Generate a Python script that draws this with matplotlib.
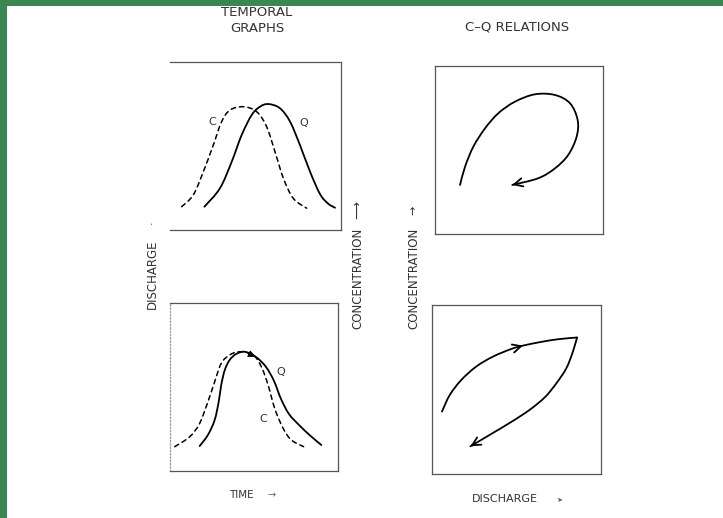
import matplotlib
matplotlib.use("Agg")
import numpy as np
import matplotlib.pyplot as plt
from matplotlib.patches import Rectangle, PathPatch
from matplotlib.path import Path

# ---------------- data (panel units 0-100) ----------------
# Top-left: temporal graph, C leads Q
tl_c_t = [6.8, 13.6, 19.5, 25.3, 30.2, 35.1, 42.9, 50.7, 56.5, 61.4, 66.3, 72.1, 79.9]
tl_c_v = [13.9, 20.9, 34.8, 50.7, 64.7, 71.6, 73.6, 70.6, 61.7, 46.7, 30.9, 18.9, 13.0]
tl_q_t = [20.1, 29.2, 36.1, 41.9, 47.8, 52.6, 57.5, 64.3, 70.2, 76.0, 81.9, 87.7, 92.4, 96.5]
tl_q_v = [13.9, 24.9, 40.8, 56.7, 68.7, 73.6, 75.2, 72.7, 64.7, 50.7, 34.8, 21.5, 15.8, 13.3]

# Top-right: C-Q loop (clockwise)
tr_q = [14.9, 17.9, 22.8, 29.8, 37.7, 47.6, 59.5, 71.4, 80.4, 84.9, 84.3, 79.3, 71.4, 61.5, 46.0]
tr_c = [29.3, 40.2, 52.1, 63.1, 72.1, 79.0, 83.4, 83.0, 78.0, 68.1, 58.1, 47.2, 39.2, 33.3, 29.3]

# Bottom-left: temporal graph, peaks coincide
bl_c_t = [3.1, 12.0, 17.9, 22.8, 26.8, 30.7, 35.7, 41.7, 49.6, 54.5, 58.5, 62.4, 67.4, 72.3, 79.6]
bl_c_v = [14.5, 20.4, 28.4, 41.3, 53.2, 64.2, 69.2, 71.1, 69.2, 62.2, 51.3, 37.4, 25.5, 18.5, 14.5]
bl_q_t = [17.9, 22.8, 26.8, 29.2, 30.7, 32.8, 35.7, 39.6, 44.6, 51.3, 57.3, 62.0, 66.2, 70.9, 76.9, 83.4, 90.1]
bl_q_v = [14.9, 21.5, 30.4, 41.3, 51.3, 60.2, 66.2, 69.8, 71.1, 68.0, 62.0, 53.7, 42.9, 34.0, 27.4, 21.2, 15.5]

# Bottom-right: C-Q relation, rising and falling limbs
br_up_q = [5.9, 10.5, 17.3, 26.2, 36.1, 46.9, 53.8, 65.7, 75.6, 85.8]
br_up_c = [37.0, 46.8, 55.7, 63.7, 69.6, 74.1, 76.1, 78.5, 80.0, 80.9]
br_dn_q = [85.8, 83.4, 79.5, 73.6, 66.9, 58.0, 47.3, 35.5, 22.7]
br_dn_c = [80.9, 72.6, 62.7, 53.8, 45.6, 38.2, 31.1, 24.0, 16.4]

# ---------------- figure ----------------
W, H = 723, 518
fig = plt.figure(figsize=(W / 100, H / 100), dpi=100)
fig.patch.set_facecolor("white")

GREEN = "#3b8754"
fig.patches.append(Rectangle((0, 0), 7 / W, 1, transform=fig.transFigure,
                             facecolor=GREEN, edgecolor="none", zorder=10))
fig.patches.append(Rectangle((0, 1 - 6 / H), 1, 6 / H, transform=fig.transFigure,
                             facecolor=GREEN, edgecolor="none", zorder=10))


def add_panel(x0, y0, x1, y1):
    ax = fig.add_axes([x0 / W, 1 - y1 / H, (x1 - x0) / W, (y1 - y0) / H])
    ax.set_xlim(0, 100)
    ax.set_ylim(0, 100)
    ax.set_xticks([])
    ax.set_yticks([])
    for s in ax.spines.values():
        s.set_color("#555555")
        s.set_linewidth(0.9)
    return ax


def px(x, y):
    return x / W, 1 - y / H


LW = 1.3
DASH = (0, (3.0, 2.6))
TXT = "#333333"


def smooth(ax, xs, ys, **kw):
    """Draw a smooth Bezier curve passing through the read points."""
    p = np.column_stack([xs, ys]).astype(float)
    n = len(p)
    verts = [p[0]]
    codes = [Path.MOVETO]
    for i in range(n - 1):
        p0 = p[i - 1] if i > 0 else p[i]
        p1, p2 = p[i], p[i + 1]
        p3 = p[i + 2] if i + 2 < n else p[i + 1]
        c1 = p1 + (p2 - p0) / 6.0
        c2 = p2 - (p3 - p1) / 6.0
        verts += [c1, c2, p2]
        codes += [Path.CURVE4] * 3
    patch = PathPatch(Path(verts, codes), fill=False, edgecolor="k",
                      capstyle="round", joinstyle="round", **kw)
    ax.add_patch(patch)


def head(ax, xs, ys, i_to, i_from, style="->,head_length=0.6,head_width=0.3", lw=LW):
    xt, yt = xs[i_to], ys[i_to]
    dx, dy = xs[i_to] - xs[i_from], ys[i_to] - ys[i_from]
    d = np.hypot(dx, dy)
    ax.annotate("", xy=(xt, yt), xytext=(xt - dx / d * 1.5, yt - dy / d * 1.5),
                arrowprops=dict(arrowstyle=style, lw=lw, color="k",
                                shrinkA=0, shrinkB=0))


# Top-left
ax1 = add_panel(170, 62.5, 341, 230)
ax1.spines["left"].set_visible(False)
smooth(ax1, tl_c_t, tl_c_v, lw=1.1, linestyle=DASH)
smooth(ax1, tl_q_t, tl_q_v, lw=LW)
ax1.text(24.7, 64.7, "C", fontsize=8, color=TXT, ha="center", va="center")
ax1.text(78.0, 63.7, "Q", fontsize=8, color=TXT, ha="center", va="center")

# Top-right
ax2 = add_panel(435, 66.5, 603, 234)
smooth(ax2, tr_q, tr_c, lw=LW)
head(ax2, tr_q, tr_c, -1, -2)

# Bottom-left
ax3 = add_panel(169.5, 303.3, 338, 471)
ax3.spines["left"].set_linestyle(":")
ax3.spines["left"].set_color("#999999")
smooth(ax3, bl_c_t, bl_c_v, lw=1.1, linestyle=DASH)
smooth(ax3, bl_q_t, bl_q_v, lw=LW)
head(ax3, bl_q_t, bl_q_v, 9, 8, style="-|>,head_length=0.45,head_width=0.2", lw=0.8)
ax3.text(66.3, 59.2, "Q", fontsize=8, color=TXT, ha="center", va="center")
ax3.text(55.5, 31.0, "C", fontsize=8, color=TXT, ha="center", va="center")

# Bottom-right
ax4 = add_panel(432, 305.3, 601, 474)
smooth(ax4, br_up_q, br_up_c, lw=LW)
smooth(ax4, br_dn_q, br_dn_c, lw=LW)
head(ax4, br_dn_q, br_dn_c, -1, -2)
head(ax4, br_up_q, br_up_c, 6, 5)

# ---------------- texts ----------------
fig.text(*px(257, 13), "TEMPORAL", fontsize=9.5, color=TXT, ha="center", va="center")
fig.text(*px(257, 29), "GRAPHS", fontsize=9.5, color=TXT, ha="center", va="center")
fig.text(*px(517, 27), "C–Q RELATIONS", fontsize=9.5, color=TXT, ha="center", va="center")

fig.text(*px(152, 274), "DISCHARGE", fontsize=8.5, color=TXT, rotation=90,
         ha="center", va="center")
fig.text(*px(152, 222), "·", fontsize=8, color=TXT, rotation=90, ha="center", va="center")

fig.text(*px(357.5, 278), "CONCENTRATION", fontsize=8.5, color=TXT, rotation=90,
         ha="center", va="center")
fig.text(*px(357.5, 210), "⟶", fontsize=9, color=TXT, rotation=90, ha="center", va="center")

fig.text(*px(413.5, 278), "CONCENTRATION", fontsize=8.5, color=TXT, rotation=90,
         ha="center", va="center")
fig.text(*px(413.5, 210), "→", fontsize=8, color=TXT, rotation=90, ha="center", va="center")

fig.text(*px(241, 495), "TIME", fontsize=7.5, color=TXT, ha="center", va="center")
fig.text(*px(272, 495), "→", fontsize=7, color="#666666", ha="center", va="center")

fig.text(*px(505, 499), "DISCHARGE", fontsize=8, color=TXT, ha="center", va="center")
fig.text(*px(560, 499), "·▸", fontsize=6, color="#666666", ha="center", va="center")

fig.savefig("out.png", dpi=100, facecolor="white")
